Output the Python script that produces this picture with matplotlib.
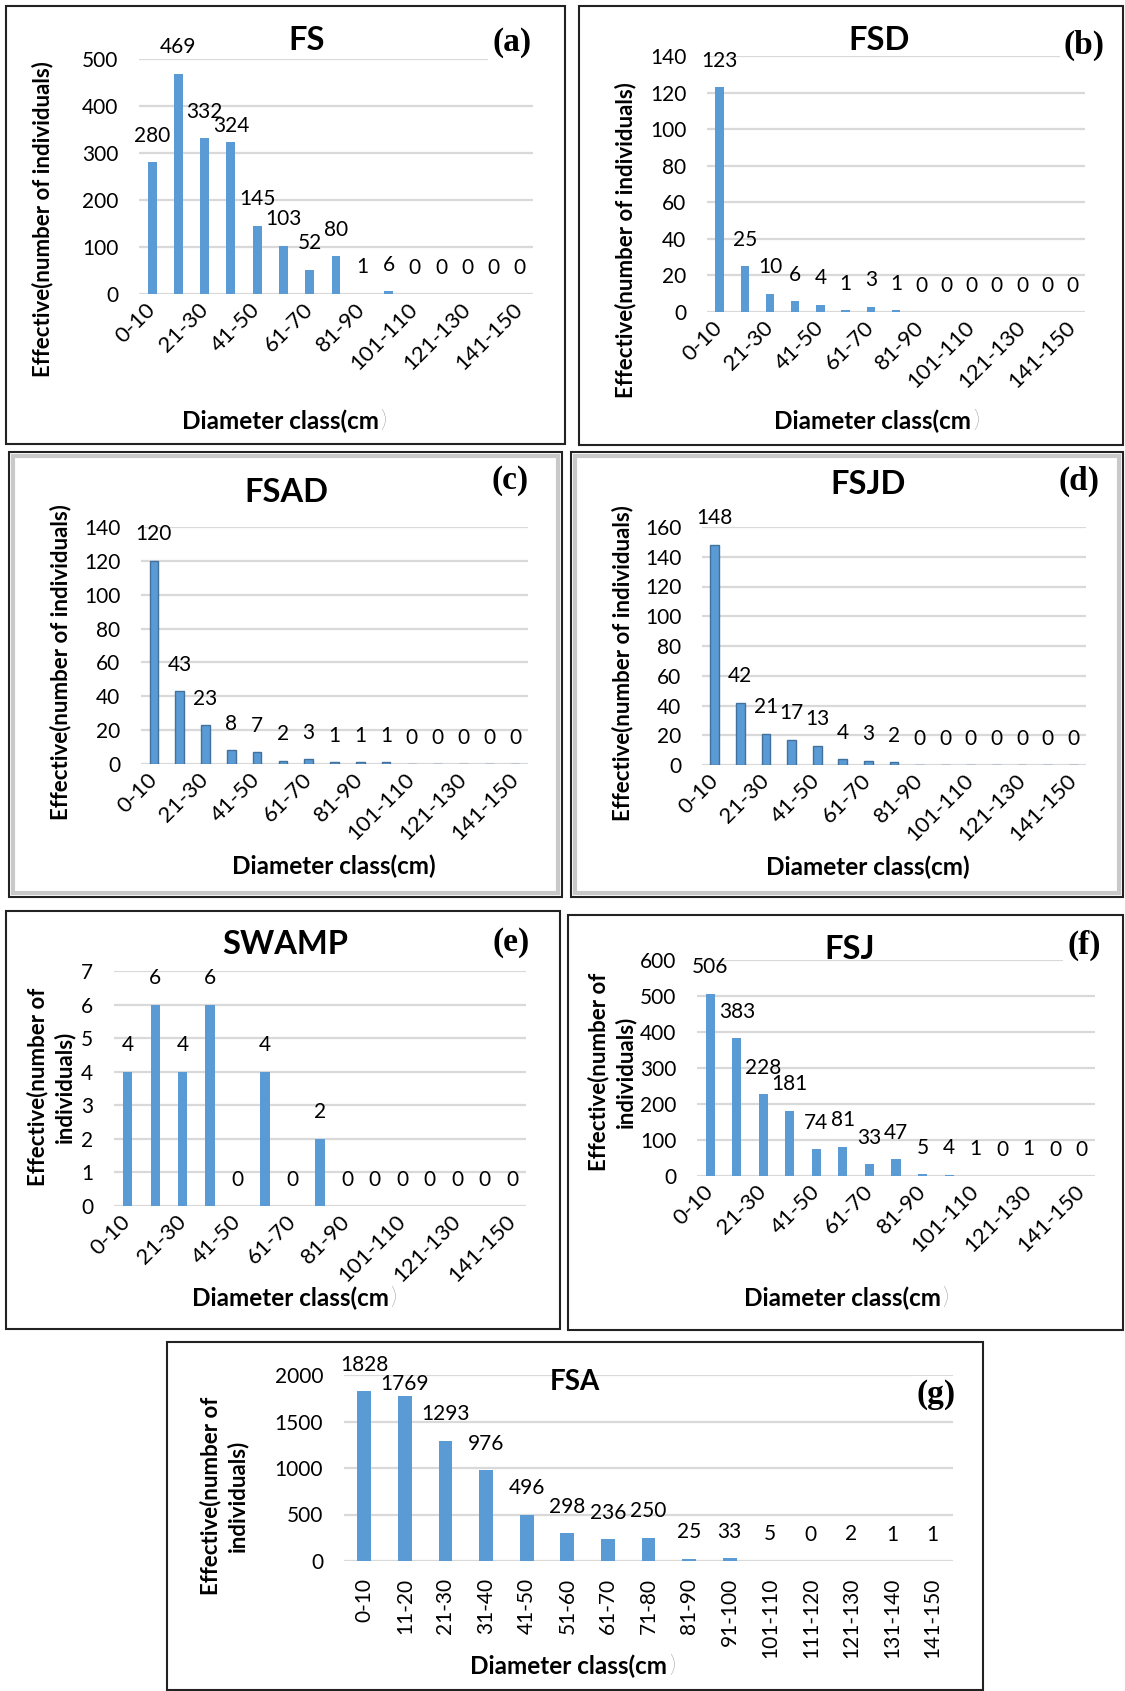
import matplotlib
matplotlib.use("Agg")
import matplotlib.pyplot as plt
from matplotlib.patches import Rectangle

# classes de diamètre
categories = ["0-10", "11-20", "21-30", "31-40", "41-50", "51-60", "61-70", "71-80",
              "81-90", "91-100", "101-110", "111-120", "121-130", "131-140", "141-150"]

fs = [280, 469, 332, 324, 145, 103, 52, 80, 1, 6, 0, 0, 0, 0, 0]
fsd = [123, 25, 10, 6, 4, 1, 3, 1, 0, 0, 0, 0, 0, 0, 0]
fsad = [120, 43, 23, 8, 7, 2, 3, 1, 1, 1, 0, 0, 0, 0, 0]
fsjd = [148, 42, 21, 17, 13, 4, 3, 2, 0, 0, 0, 0, 0, 0, 0]
swamp = [4, 6, 4, 6, 0, 4, 0, 2, 0, 0, 0, 0, 0, 0, 0]
fsj = [506, 383, 228, 181, 74, 81, 33, 47, 5, 4, 1, 0, 1, 0, 0]
fsa = [1828, 1769, 1293, 976, 496, 298, 236, 250, 25, 33, 5, 0, 2, 1, 1]

plt.rcParams['font.family'] = ['Lato', 'DejaVu Sans']

W, H = 1125, 1691
fig = plt.figure(figsize=(W / 100, H / 100), dpi=100)
fig.patch.set_facecolor('white')

BLUE = '#5B9BD5'
YLAB1 = "Effective(number of individuals)"
YLAB2 = "Effective(number of\nindividuals)"


def box(x0, y0, x1, y1, grey=False):
    """Cadre d'un panneau (coordonnées en pixels depuis le haut)"""
    fig.add_artist(Rectangle((x0 / W, 1 - y1 / H), (x1 - x0) / W, (y1 - y0) / H,
                             transform=fig.transFigure, fill=False,
                             ec='#222222', lw=1.5, zorder=0))
    if grey:
        fig.add_artist(Rectangle(((x0 + 4) / W, 1 - (y1 - 4) / H), (x1 - x0 - 8) / W,
                                 (y1 - y0 - 8) / H, transform=fig.transFigure,
                                 fill=False, ec='#C9C9C9', lw=3, zorder=0))


def panel(values, ymax, ystep, ax_px, title, title_xy, tag, tag_xy, ylab, ylab_xy,
          xlab_xy, edge=False, vertical=False, fsz=15, xsz=16, ysz=15, title_size=23.5,
          lift=None, thin_paren=True):
    lift = lift or {}
    x0, x1, yt, yb = ax_px
    ax = fig.add_axes([x0 / W, 1 - yb / H, (x1 - x0) / W, (yb - yt) / H])
    ax.bar(range(len(values)), values, width=0.34, color=BLUE,
           edgecolor='#41719C' if edge else 'none', linewidth=1.0 if edge else 0, zorder=3)
    for i, v in enumerate(values):
        ax.annotate(str(v), (i, v), xytext=(0, lift.get(i, 19)), textcoords='offset points',
                    ha='center', va='center', fontsize=fsz, annotation_clip=False)
    ax.set_xlim(-0.5, len(values) - 0.5)
    ax.set_ylim(0, ymax)
    ax.set_yticks(range(0, ymax + 1, ystep))
    ax.tick_params(axis='y', length=0, pad=15, labelsize=ysz)
    ax.set_xticks(range(len(values)))
    if vertical:
        ax.set_xticklabels(categories, rotation=90, fontsize=xsz)
        ax.tick_params(axis='x', length=0, pad=12)
    else:
        labs = [c if i % 2 == 0 else '' for i, c in enumerate(categories)]
        ax.set_xticklabels(labs, rotation=45, ha='right', va='center',
                           rotation_mode='anchor', fontsize=xsz)
        ax.tick_params(axis='x', length=0, pad=9)
    for s in ax.spines.values():
        s.set_visible(False)
    ax.yaxis.grid(True, color='#D9D9D9', lw=1.6)
    ax.set_axisbelow(True)

    fig.text(title_xy[0] / W, 1 - title_xy[1] / H, title, ha='center', va='center',
             fontsize=title_size, fontweight='bold')
    fig.text(tag_xy[0] / W, 1 - tag_xy[1] / H, tag, ha='center', va='center',
             fontsize=24, fontweight='bold', family='Liberation Serif',
             bbox=dict(fc='white', ec='none', pad=3))
    fig.text(ylab_xy[0] / W, 1 - ylab_xy[1] / H, ylab, ha='center', va='center',
             rotation=90, fontsize=16, fontweight='bold', multialignment='center',
             linespacing=1.3)
    if thin_paren:
        # la parenthèse fermante est fine et grise dans l'original
        t = fig.text((xlab_xy[0] - 3) / W, 1 - xlab_xy[1] / H, "Diameter class(cm",
                     ha='center', va='center', fontsize=17.5, fontweight='bold')
        ax.annotate(")", xy=(1, 0.5), xycoords=t, xytext=(1, 0), textcoords='offset points',
                    ha='left', va='center', fontsize=17.5, fontweight='light',
                    color='#555555', annotation_clip=False)
    else:
        fig.text(xlab_xy[0] / W, 1 - xlab_xy[1] / H, "Diameter class(cm)", ha='center',
                 va='center', fontsize=17.5, fontweight='bold')
    return ax


# cadres
box(6, 6, 565, 444)
box(579, 6, 1123, 445)
box(9, 452, 562, 897, grey=True)
box(571, 452, 1123, 897, grey=True)
box(6, 911, 560, 1329)
box(568, 915, 1123, 1330)
box(167, 1342, 983, 1690)

panel(fs, 500, 100, (139, 533, 59, 294), "FS", (307, 41), "(a)", (512, 43),
      YLAB1, (43, 219), (283, 421), lift={3: 11})
panel(fsd, 140, 20, (707, 1085, 56, 312), "FSD", (879, 41), "(b)", (1084, 45),
      YLAB1, (626, 240), (876, 421))
panel(fsad, 140, 20, (141, 528, 527, 764), "FSAD", (286, 492), "(c)", (510, 480),
      YLAB1, (61, 662), (334, 866), edge=True, thin_paren=False)
panel(fsjd, 160, 20, (702, 1086, 527, 765), "FSJD", (868, 484), "(d)", (1079, 481),
      YLAB1, (623, 663), (868, 867), edge=True, thin_paren=False)
panel(swamp, 7, 1, (114, 526, 971, 1206), "SWAMP", (285, 945), "(e)", (511, 943),
      YLAB2, (51, 1087), (293, 1298))
panel(fsj, 600, 100, (697, 1095, 960, 1176), "FSJ", (850, 949), "(f)", (1084, 945),
      YLAB2, (612, 1072), (845, 1298))
panel(fsa, 2000, 500, (344, 953, 1375, 1561), "FSA", (575, 1382), "(g)", (936, 1395),
      YLAB2, (224, 1496), (572, 1666), vertical=True, fsz=15, xsz=15, ysz=15,
      title_size=20, lift={1: 9})

plt.savefig('out.png', dpi=100)
